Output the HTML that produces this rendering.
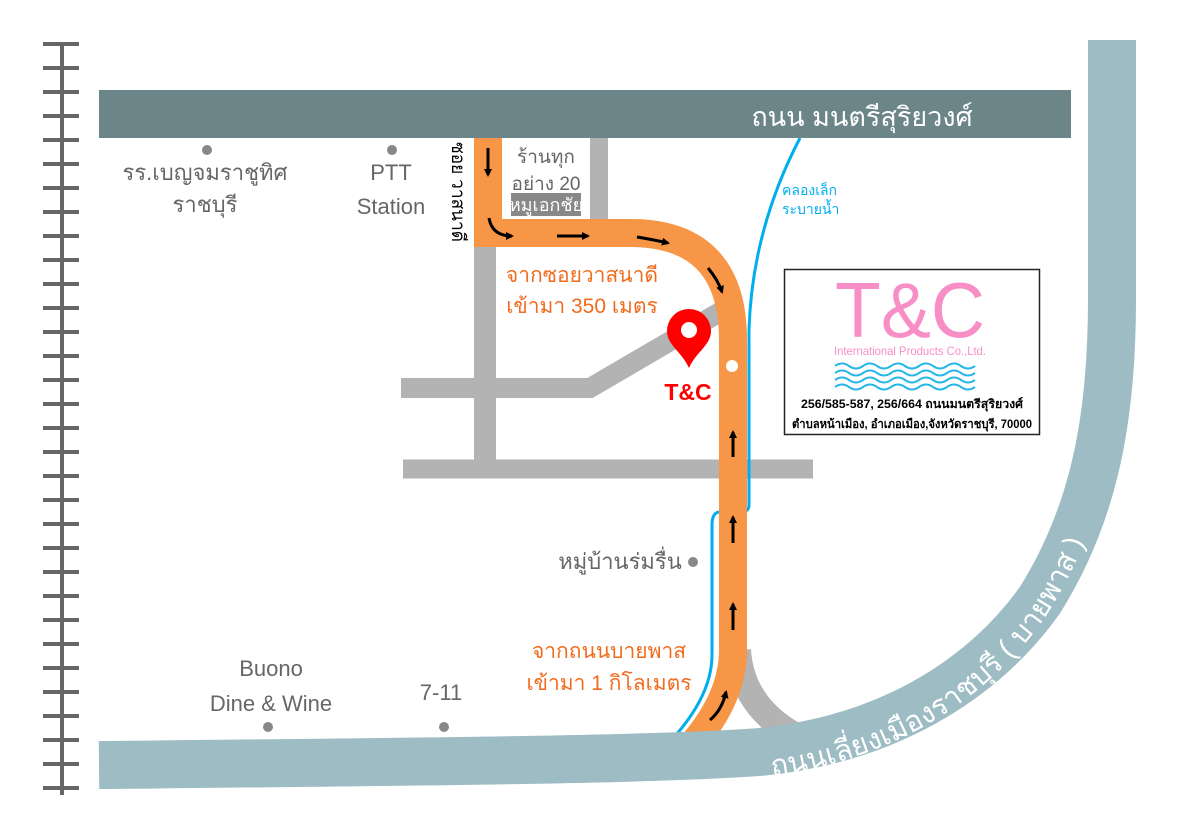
<!DOCTYPE html>
<html><head><meta charset="utf-8"><style>
body{margin:0;background:#fff;}
svg text{font-family:"Liberation Sans","Noto Sans CJK SC",sans-serif;}
</style></head><body>
<svg width="1181" height="835" viewBox="0 0 1181 835" xmlns="http://www.w3.org/2000/svg">
<defs>
<marker id="ah" markerWidth="8" markerHeight="8" refX="6" refY="4" orient="auto" markerUnits="userSpaceOnUse"><path d="M0,0 L8,4 L0,8 Z" fill="#000"/></marker>
<path id="byp" d="M99,765 C 400,762 650,760 760,752 C 900,738 990,670 1040,600 C 1090,520 1112,430 1112,300 L1112,40"/>
<path id="bypt" d="M772,776 C 905,758 995,690 1046,616 C 1075,570 1092,530 1102,480"/>
</defs>
<!-- railway -->
<rect x="60" y="43" width="4" height="752" fill="#666"/>
<g fill="#666">
<rect x="43" y="42" width="36" height="4"/><rect x="43" y="66" width="36" height="4"/><rect x="43" y="90" width="36" height="4"/><rect x="43" y="114" width="36" height="4"/><rect x="43" y="138" width="36" height="4"/><rect x="43" y="162" width="36" height="4"/><rect x="43" y="186" width="36" height="4"/><rect x="43" y="210" width="36" height="4"/><rect x="43" y="234" width="36" height="4"/><rect x="43" y="258" width="36" height="4"/><rect x="43" y="282" width="36" height="4"/><rect x="43" y="306" width="36" height="4"/><rect x="43" y="330" width="36" height="4"/><rect x="43" y="354" width="36" height="4"/><rect x="43" y="378" width="36" height="4"/><rect x="43" y="402" width="36" height="4"/><rect x="43" y="426" width="36" height="4"/><rect x="43" y="450" width="36" height="4"/><rect x="43" y="474" width="36" height="4"/><rect x="43" y="498" width="36" height="4"/><rect x="43" y="522" width="36" height="4"/><rect x="43" y="546" width="36" height="4"/><rect x="43" y="570" width="36" height="4"/><rect x="43" y="594" width="36" height="4"/><rect x="43" y="618" width="36" height="4"/><rect x="43" y="642" width="36" height="4"/><rect x="43" y="666" width="36" height="4"/><rect x="43" y="690" width="36" height="4"/><rect x="43" y="714" width="36" height="4"/><rect x="43" y="738" width="36" height="4"/><rect x="43" y="762" width="36" height="4"/><rect x="43" y="786" width="36" height="4"/>
</g>
<!-- gray roads -->
<g stroke="#b3b3b3" fill="none">
<path d="M485,138 V460" stroke-width="22"/>
<path d="M599,138 V220" stroke-width="18"/>
<path d="M403,469 H813" stroke-width="19"/>
<path d="M401,388 H590 L720,312" stroke-width="20"/>
<path d="M738,650 Q742,715 815,745" stroke-width="26"/>
</g>
<!-- canal -->
<path d="M800,138 Q752,230 749,330 V505 Q749,512 740,512 H720 Q712,512 712,525 V655 Q712,700 662,750" fill="none" stroke="#00aeef" stroke-width="3"/>
<!-- top road -->
<rect x="99" y="90" width="972" height="48" fill="#6b8589"/>
<text x="862" y="126" font-size="27" fill="#fff" text-anchor="middle">ถนน มนตรีสุริยวงศ์</text>
<!-- orange route -->
<path d="M488,138 V233 H630 Q733,233 733,340 V650 Q733,705 678,760" fill="none" stroke="#f79646" stroke-width="28"/>
<!-- bypass -->
<use href="#byp" fill="none" stroke="#9dbcc3" stroke-width="48"/>
<text font-size="29" fill="#fff"><textPath href="#bypt">ถนนเลี่ยงเมืองราชบุรี ( บายพาส )</textPath></text>
<!-- arrows -->
<g stroke="#000" stroke-width="3" fill="none" marker-end="url(#ah)">
<path d="M488,148 V175"/>
<path d="M489,218 Q492,236 512,236"/>
<path d="M557,236 H588"/>
<path d="M637,237 Q655,240 668,243"/>
<path d="M708,268 Q718,280 722,292"/>
<path d="M733,457 V432"/>
<path d="M733,543 V517"/>
<path d="M733,630 V604"/>
<path d="M710,720 Q722,710 726,692"/>
</g>
<circle cx="732" cy="366" r="6" fill="#fff"/>
<!-- pin -->
<path d="M689,368 C682,352 667,345 667,331 A22,22 0 0 1 711,331 C711,345 696,352 689,368 Z" fill="#f00"/>
<circle cx="689" cy="330" r="8" fill="#fff"/>
<text x="688" y="400" font-size="23" font-weight="bold" fill="#f00" text-anchor="middle">T&amp;C</text>
<!-- labels -->
<g fill="#666" font-size="22" text-anchor="middle">
<text x="205" y="180">รร.เบญจมราชูทิศ</text>
<text x="205" y="212">ราชบุรี</text>
<text x="391" y="180">PTT</text>
<text x="391" y="214">Station</text>
<text x="271" y="676">Buono</text>
<text x="271" y="711">Dine &amp; Wine</text>
<text x="441" y="700">7-11</text>
<text x="620" y="569" text-anchor="middle">หมู่บ้านร่มรื่น</text>
</g>
<g fill="#888"><circle cx="207" cy="150" r="5"/><circle cx="392" cy="150" r="5"/><circle cx="268" cy="727" r="5"/><circle cx="444" cy="727" r="5"/><circle cx="693" cy="562" r="5"/></g>
<g fill="#666" font-size="19" text-anchor="middle">
<text x="546" y="163">ร้านทุก</text>
<text x="546" y="190">อย่าง 20</text>
</g>
<rect x="511" y="193" width="70" height="23" fill="#888"/>
<text x="546" y="211" font-size="18" fill="#fff" text-anchor="middle">หมูเอกชัย</text>
<text transform="translate(452,142) rotate(90)" font-size="19" fill="#000" textLength="100" lengthAdjust="spacingAndGlyphs">ซอย วาสนาดี</text>
<g fill="#f26b1d" font-size="21" text-anchor="middle">
<text x="582" y="282">จากซอยวาสนาดี</text>
<text x="582" y="313">เข้ามา 350 เมตร</text>
<text x="609" y="658">จากถนนบายพาส</text>
<text x="609" y="690">เข้ามา 1 กิโลเมตร</text>
</g>
<g fill="#00aeef" font-size="14">
<text x="782" y="195">คลองเล็ก</text>
<text x="782" y="214">ระบายน้ำ</text>
</g>
<!-- info box -->
<rect x="784.5" y="269.5" width="255" height="165" fill="#fff" stroke="#222" stroke-width="1.5"/>
<text x="910" y="337" font-size="78" fill="#f78fc6" text-anchor="middle" textLength="150" lengthAdjust="spacingAndGlyphs">T&amp;C</text>
<text x="910" y="355" font-size="12" fill="#f78fc6" text-anchor="middle" textLength="152" lengthAdjust="spacingAndGlyphs">International Products Co.,Ltd.</text>
<g fill="none" stroke="#29b6e8" stroke-width="2">
<path d="M835,366 q7,-5 14,0 t14,0 t14,0 t14,0 t14,0 t14,0 t14,0 t14,0 t14,0 t14,0"/>
<path d="M835,373 q7,-5 14,0 t14,0 t14,0 t14,0 t14,0 t14,0 t14,0 t14,0 t14,0 t14,0"/>
<path d="M835,380 q7,-5 14,0 t14,0 t14,0 t14,0 t14,0 t14,0 t14,0 t14,0 t14,0 t14,0"/>
<path d="M835,387 q7,-5 14,0 t14,0 t14,0 t14,0 t14,0 t14,0 t14,0 t14,0 t14,0 t14,0"/>
</g>
<text x="912" y="408" font-size="12" font-weight="bold" fill="#000" text-anchor="middle" textLength="222" lengthAdjust="spacingAndGlyphs">256/585-587, 256/664 ถนนมนตรีสุริยวงศ์</text>
<text x="912" y="428" font-size="12" font-weight="bold" fill="#000" text-anchor="middle" textLength="240" lengthAdjust="spacingAndGlyphs">ตำบลหน้าเมือง, อำเภอเมือง,จังหวัดราชบุรี, 70000</text>
</svg>
</body></html>
